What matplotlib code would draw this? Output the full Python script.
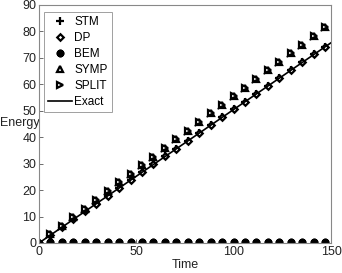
import matplotlib
matplotlib.use("Agg")
import matplotlib.pyplot as plt

plt.rcParams["font.family"] = ["Liberation Sans", "DejaVu Sans"]

# sampled time points (markers)
t = [0, 5.9, 11.8, 17.6, 23.5, 29.4, 35.3, 41.2, 47.0, 52.9, 58.8, 64.7, 70.6,
     76.4, 82.3, 88.2, 94.1, 100.0, 105.8, 111.7, 117.6, 123.5, 129.4, 135.2, 141.1, 147.0]

stm = [0, 3.0, 6.0, 8.9, 11.9, 14.8, 17.8, 20.8, 23.7, 26.7, 29.7, 32.7, 35.7,
       38.6, 41.6, 44.5, 47.5, 50.5, 53.4, 56.4, 59.4, 62.4, 65.3, 68.3, 71.3, 74.2]
dp = [0, 3.0, 6.0, 8.9, 11.9, 14.8, 17.8, 20.8, 23.7, 26.7, 29.7, 32.7, 35.7,
      38.6, 41.6, 44.5, 47.5, 50.5, 53.4, 56.4, 59.4, 62.4, 65.3, 68.3, 71.3, 74.2]
bem = [0, 0.5, 0.5, 0.5, 0.5, 0.5, 0.5, 0.5, 0.5, 0.5, 0.5, 0.5, 0.5,
       0.5, 0.5, 0.5, 0.5, 0.5, 0.5, 0.5, 0.5, 0.5, 0.5, 0.5, 0.5, 0.5]
symp = [0, 3.3, 6.5, 9.8, 13.0, 16.3, 19.6, 22.9, 26.1, 29.4, 32.6, 35.9, 39.2,
        42.4, 45.7, 49.0, 52.2, 55.5, 58.7, 62.0, 65.3, 68.5, 71.8, 75.0, 78.3, 81.6]
split = [0, 3.3, 6.5, 9.8, 13.0, 16.3, 19.6, 22.9, 26.1, 29.4, 32.6, 35.9, 39.2,
         42.4, 45.7, 49.0, 52.2, 55.5, 58.7, 62.0, 65.3, 68.5, 71.8, 75.0, 78.3, 81.6]

t_exact = [0, 150]
exact = [0, 75.7]

fig = plt.figure(figsize=(3.42, 2.73), dpi=100, facecolor="white")
ax = fig.add_axes([0.114, 0.110, 0.854, 0.872])

mk = dict(linestyle="none", color="black", markerfacecolor="white", markeredgewidth=1.6)
ax.plot(t, stm, marker="+", markersize=5.5, label="STM", **mk)
ax.plot(t, dp, marker="D", markersize=3.3, label="DP", **mk)
ax.plot(t, bem, marker=(8, 2, 0), markersize=5.5, linestyle="none", color="black",
        markeredgewidth=1.8, label="BEM")
ax.plot(t, symp, marker="^", markersize=4.5, label="SYMP", **mk)
ax.plot(t, split, marker=">", markersize=4.5, label="SPLIT", **mk)
ax.plot(t_exact, exact, color="black", linewidth=1.2, label="Exact")

ax.set_xlim(0, 150)
ax.set_ylim(0, 90)
ax.set_xticks([0, 50, 100, 150])
ax.set_yticks(range(0, 91, 10))
ax.tick_params(direction="in", length=3, labelsize=9, colors="#555", labelcolor="#222",
               width=0.6, pad=2)
for s in ax.spines.values():
    s.set_color("#888")
    s.set_linewidth(0.8)

ax.set_xlabel("Time", fontsize=9, color="#222", labelpad=1)
ax.set_ylabel("Energy", fontsize=9, color="#222", rotation=0, ha="center", va="center")
ax.yaxis.set_label_coords(-0.065, 0.505)

leg = ax.legend(loc="upper left", bbox_to_anchor=(0.017, 0.97), borderaxespad=0,
                fontsize=8.5, frameon=True, fancybox=False, edgecolor="#888",
                handlelength=2.0, handletextpad=0.2, borderpad=0.35, labelspacing=0.33)
leg.get_frame().set_linewidth(0.7)

fig.savefig("out.png", dpi=100, facecolor="white")
